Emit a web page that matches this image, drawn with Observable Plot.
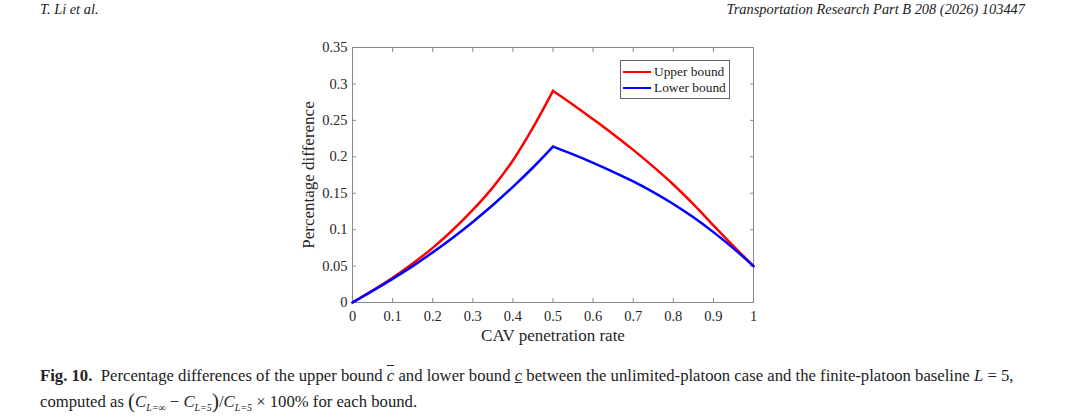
<!DOCTYPE html>
<html><head><meta charset="utf-8">
<script src="https://cdn.jsdelivr.net/npm/d3@7"></script>
<script src="https://cdn.jsdelivr.net/npm/@observablehq/plot@0.6"></script>
<style>
body{margin:0;background:#fff;width:1080px;height:419px;overflow:hidden;position:relative;font-family:"Liberation Serif","Times New Roman",serif;color:#222;}
#hdrL{position:absolute;left:40px;top:1px;font-style:italic;font-size:14.4px;}
#hdrR{position:absolute;right:55px;top:1px;font-style:italic;font-size:14.4px;}
#chart{position:absolute;left:0;top:30px;}
#legend{position:absolute;left:620px;top:60px;width:108px;height:37px;border:1px solid #666;background:#fff;font-size:13.4px;}
#legend .row{position:absolute;left:2px;height:16px;line-height:16px;white-space:nowrap;}
#legend .sw{display:inline-block;width:28px;height:2.6px;vertical-align:middle;margin-right:3px;position:relative;top:-1px;}
#caption{position:absolute;left:40px;top:364px;font-size:16.7px;line-height:24px;white-space:nowrap;}
#caption i{font-style:italic;}
.big{font-size:21px;position:relative;top:1px;}
sub{font-size:10px;font-style:italic;}
</style>
</head><body>
<div id="hdrL">T. Li et al.</div>
<div id="hdrR">Transportation Research Part B 208 (2026) 103447</div>
<div id="chart"></div>
<div id="legend"></div>
<div id="caption"><b>Fig. 10.</b>&nbsp; Percentage differences of the upper bound <i style="text-decoration:overline">c</i> and lower bound <i style="text-decoration:underline">c</i> between the unlimited-platoon case and the finite-platoon baseline <i>L</i> = 5,<br>computed as <span class="big">(</span><i>C</i><sub>L=∞</sub> − <i>C</i><sub>L=5</sub><span class="big">)</span>/<i>C</i><sub>L=5</sub> × 100% for each bound.</div>
<script>
const penetration = [0,0.05,0.1,0.15,0.2,0.25,0.3,0.35,0.4,0.45,0.5,0.55,0.6,0.65,0.7,0.75,0.8,0.85,0.9,0.95,1];
const upperBound = [0,0.0165,0.034,0.0535,0.075,0.0995,0.127,0.158,0.195,0.240,0.2905,0.2715,0.2515,0.231,0.2095,0.1865,0.162,0.135,0.106,0.0775,0.050];
const lowerBound = [0,0.0159,0.0325,0.0499,0.0688,0.089,0.1106,0.1338,0.1587,0.1853,0.214,0.2032,0.1917,0.1794,0.1661,0.1515,0.1352,0.1169,0.0966,0.0743,0.050];
const seriesNames = ["Upper bound","Lower bound"];
const seriesColors = ["#ff0000","#0000ff"];
const xTicks = [0,0.1,0.2,0.3,0.4,0.5,0.6,0.7,0.8,0.9,1];
const yTicks = [0,0.05,0.1,0.15,0.2,0.25,0.3,0.35];
const xLabel = "CAV penetration rate";
const yLabel = "Percentage difference";

const rows = [];
[upperBound, lowerBound].forEach((vals, i) => {
  const peak = vals.indexOf(d3.max(vals));
  vals.forEach((v, j) => {
    if (j <= peak) rows.push({x: penetration[j], y: v, series: seriesNames[i], seg: seriesNames[i] + "-a"});
    if (j >= peak) rows.push({x: penetration[j], y: v, series: seriesNames[i], seg: seriesNames[i] + "-b"});
  });
});

const fmt = d => String(+d.toFixed(2));
const axisColor = "#8a8a8a";
const tickFont = 14.5;

const plot = Plot.plot({
  width: 1080,
  height: 320,
  marginLeft: 352,
  marginRight: 327,
  marginTop: 17,
  marginBottom: 48,
  style: {fontFamily: "'Liberation Serif','Times New Roman',serif", color: "#262626", background: "#fff"},
  x: {domain: [0, 1]},
  y: {domain: [0, 0.35]},
  color: {domain: seriesNames, range: seriesColors},
  marks: [
    Plot.frame({stroke: axisColor}),
    Plot.axisX({ticks: xTicks, tickFormat: fmt, tickSize: -4, tickPadding: 12, label: null, stroke: axisColor, fontSize: tickFont, fill: "#262626"}),
    Plot.axisX({anchor: "top", ticks: xTicks, tickFormat: () => "", tickSize: -4, label: null, stroke: axisColor}),
    Plot.axisY({ticks: yTicks, tickFormat: fmt, tickSize: -4, tickPadding: 9, label: null, stroke: axisColor, fontSize: tickFont, fill: "#262626"}),
    Plot.axisY({anchor: "right", ticks: yTicks, tickFormat: () => "", tickSize: -4, label: null, stroke: axisColor}),
    Plot.line(rows, {x: "x", y: "y", z: "seg", stroke: "series", strokeWidth: 2.5, curve: "monotone-x"}),
    Plot.text([xLabel], {text: d => d, frameAnchor: "bottom", dy: 38, fontSize: 17, fill: "#262626"}),
    Plot.text([yLabel], {text: d => d, frameAnchor: "left", textAnchor: "middle", rotate: -90, dx: -44, fontSize: 17, fill: "#262626"})
  ]
});
document.getElementById("chart").appendChild(plot);

const leg = document.getElementById("legend");
seriesNames.forEach((n, i) => {
  const r = document.createElement("div");
  r.className = "row";
  r.style.top = (3 + i * 16) + "px";
  r.innerHTML = `<span class="sw" style="background:${seriesColors[i]}"></span>${n}`;
  leg.appendChild(r);
});
</script>
</body></html>
